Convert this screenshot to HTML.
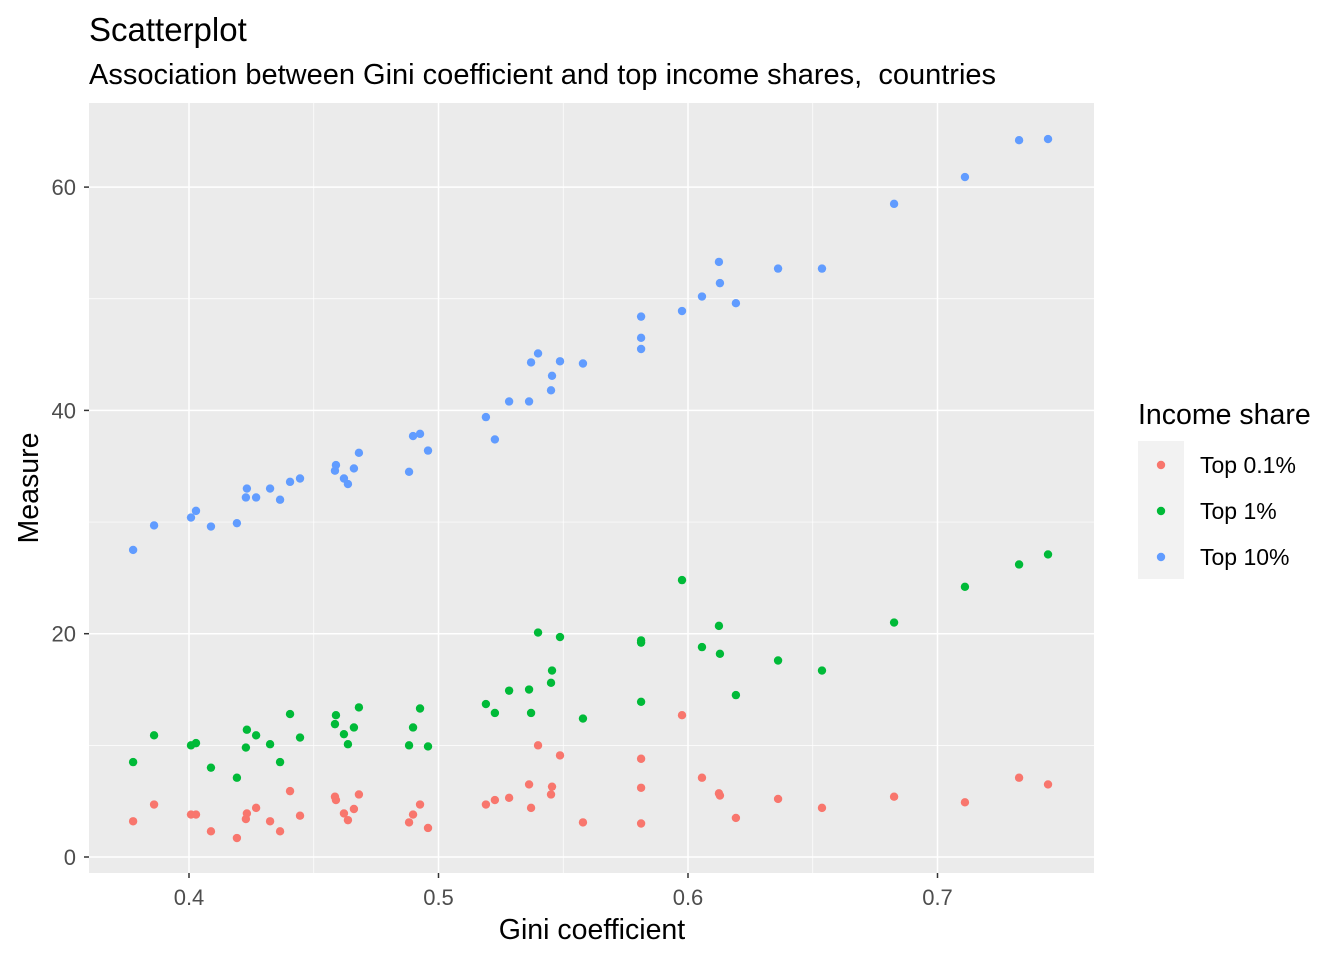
<!DOCTYPE html>
<html><head><meta charset="utf-8"><style>
body{margin:0;background:#fff;}
svg{display:block;font-family:"Liberation Sans",Arial,sans-serif;}
</style></head><body>
<svg id="chart" width="1344" height="960">
<rect width="1344" height="960" fill="#fff"/>
<text x="89" y="41" style="font-size:33px" fill="#000">Scatterplot</text>
<text x="89" y="84" style="font-size:29px;white-space:pre" fill="#000">Association between Gini coefficient and top income shares,&#160; countries</text>
<rect x="89" y="103" width="1005" height="770" fill="#ebebeb"/>
<g id="grid"></g>
<g id="points"></g>
<g id="axes"></g>
<text x="592" y="939" style="font-size:28.5px" text-anchor="middle" fill="#000">Gini coefficient</text>
<text transform="translate(38,488) rotate(-90)" style="font-size:28.5px" text-anchor="middle" fill="#000">Measure</text>
<g>
<text x="1138" y="424" style="font-size:28.5px" fill="#000">Income share</text>
<rect x="1138" y="441" width="46" height="138" fill="#f2f2f2"/>
<g id="legend"></g>
</g>
</svg>
<script>
const gini=[0.3776,0.386,0.4008,0.4028,0.4088,0.4192,0.4228,0.4232,0.4269,0.4325,0.4365,0.4405,0.4445,0.4585,0.4589,0.4621,0.4637,0.4661,0.4681,0.4882,0.4898,0.4926,0.4958,0.519,0.5226,0.5283,0.5363,0.5371,0.5399,0.5451,0.5455,0.5487,0.5579,0.5812,0.5812,0.5812,0.5976,0.6056,0.6124,0.6128,0.6192,0.6361,0.6537,0.6826,0.7110,0.7327,0.7443];
const top10=[27.5,29.7,30.4,31.0,29.6,29.9,32.2,33.0,32.2,33.0,32.0,33.6,33.9,34.6,35.1,33.9,33.4,34.8,36.2,34.5,37.7,37.9,36.4,39.4,37.4,40.8,40.8,44.3,45.1,41.8,43.1,44.4,44.2,48.4,46.5,45.5,48.9,50.2,53.3,51.4,49.6,52.7,52.7,58.5,60.9,64.2,64.3];
const top1=[8.5,10.9,10.0,10.2,8.0,7.1,9.8,11.4,10.9,10.1,8.5,12.8,10.7,11.9,12.7,11.0,10.1,11.6,13.4,10.0,11.6,13.3,9.9,13.7,12.9,14.9,15.0,12.9,20.1,15.6,16.7,19.7,12.4,19.4,19.2,13.9,24.8,18.8,20.7,18.2,14.5,17.6,16.7,21.0,24.2,26.2,27.1];
const top01=[3.2,4.7,3.8,3.8,2.3,1.7,3.4,3.9,4.4,3.2,2.3,5.9,3.7,5.4,5.1,3.9,3.3,4.3,5.6,3.1,3.8,4.7,2.6,4.7,5.1,5.3,6.5,4.4,10.0,5.6,6.3,9.1,3.1,8.8,6.2,3.0,12.7,7.1,5.7,5.5,3.5,5.2,4.4,5.4,4.9,7.1,6.5];
const xTicks=[0.4,0.5,0.6,0.7];
const xTickLabels=["0.4","0.5","0.6","0.7"];
const xMinor=[0.45,0.55,0.65];
const yTicks=[0,20,40,60];
const yTickLabels=["0","20","40","60"];
const yMinor=[10,30,50];
const seriesNames=["Top 0.1%","Top 1%","Top 10%"];
const seriesColors=["#F8766D","#00BA38","#619CFF"];

const NS="http://www.w3.org/2000/svg";
const X=v=>189+(v-0.4)*2495;
const Y=v=>857-v*11.165;
function mk(tag,attrs,parent){const e=document.createElementNS(NS,tag);for(const k in attrs)e.setAttribute(k,attrs[k]);parent.appendChild(e);return e;}
const grid=document.getElementById('grid'),axes=document.getElementById('axes'),pts=document.getElementById('points'),leg=document.getElementById('legend');
xMinor.forEach(v=>{const l=mk('line',{x1:X(v),x2:X(v),y1:103,y2:873,stroke:'#fff','stroke-width':0.7},grid);

});
yMinor.forEach(v=>{const l=mk('line',{x1:89,x2:1094,y1:Y(v),y2:Y(v),stroke:'#fff','stroke-width':0.7},grid);

});
xTicks.forEach((v,i)=>{const l=mk('line',{x1:X(v),x2:X(v),y1:103,y2:873,stroke:'#fff','stroke-width':1.5},grid);


const t=mk('line',{x1:X(v),x2:X(v),y1:873,y2:878,stroke:'#333','stroke-width':1.5},axes);


const tx=mk('text',{x:X(v),y:905,style:'font-size:22px','text-anchor':'middle',fill:'#4d4d4d'},axes);tx.textContent=xTickLabels[i];

});
yTicks.forEach((v,i)=>{const l=mk('line',{x1:89,x2:1094,y1:Y(v),y2:Y(v),stroke:'#fff','stroke-width':1.5},grid);


const t=mk('line',{x1:84,x2:89,y1:Y(v),y2:Y(v),stroke:'#333','stroke-width':1.5},axes);


const tx=mk('text',{x:76,y:Y(v)+8,style:'font-size:22px','text-anchor':'end',fill:'#4d4d4d'},axes);tx.textContent=yTickLabels[i];

});
[top01,top1,top10].forEach((arr,s)=>{arr.forEach((v,i)=>{const c=mk('circle',{cx:X(gini[i]),cy:Y(v),r:4.2,fill:seriesColors[s]},pts);

});});
seriesNames.forEach((n,s)=>{const y=465+s*46;
const c=mk('circle',{cx:1161,cy:y,r:4.2,fill:seriesColors[s]},leg);


const t=mk('text',{x:1200,y:y+8,style:'font-size:23px',fill:'#000'},leg);t.textContent=n;

});
</script>
</body></html>
